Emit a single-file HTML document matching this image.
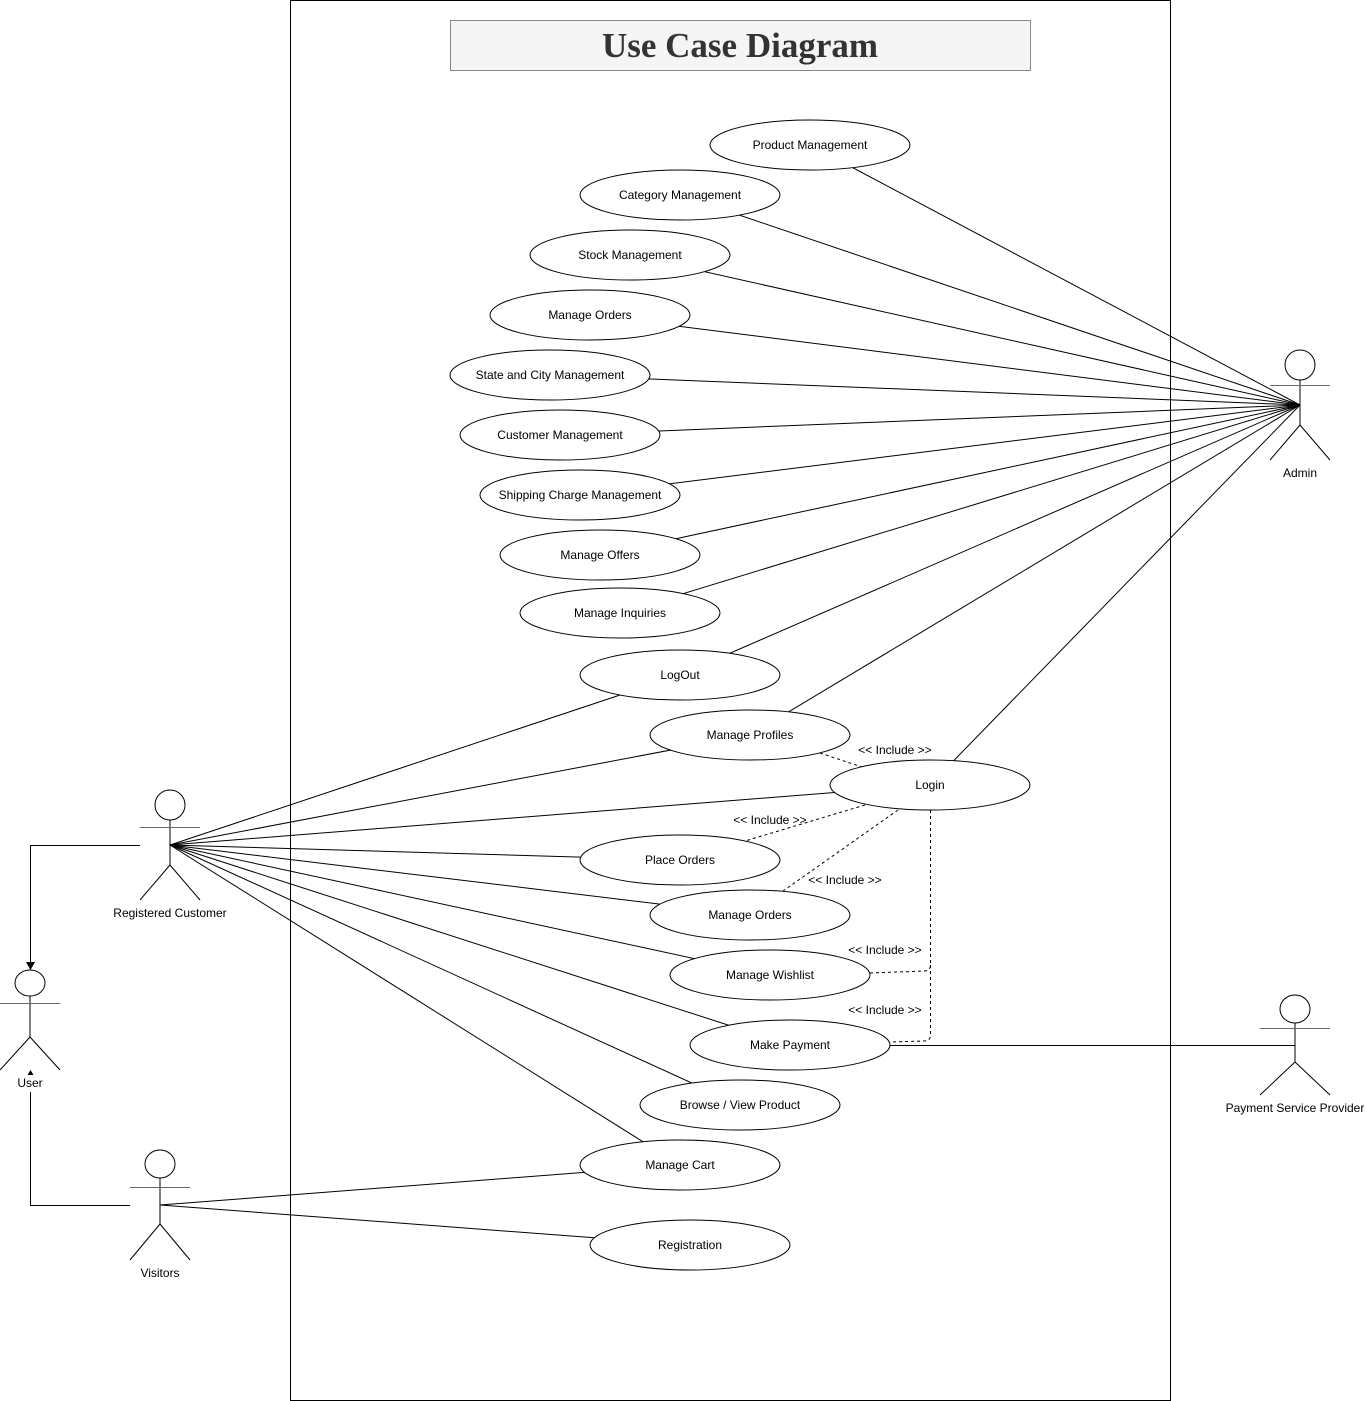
<!DOCTYPE html>
<html><head><meta charset="utf-8"><style>
html,body{margin:0;padding:0;background:#fff;}
svg{display:block;}
text{font-family:"Liberation Sans",Arial,sans-serif;font-size:12px;fill:#000;}
</style></head><body>
<svg width="1366" height="1401" viewBox="0 0 1366 1401" xmlns="http://www.w3.org/2000/svg">
<rect x="290.5" y="0.5" width="880" height="1400" fill="#fff" stroke="#000"/>
<rect x="450.5" y="20.5" width="580" height="50" fill="#f5f5f5" stroke="#888"/>
<text x="740" y="57" text-anchor="middle" style="font-family:'Liberation Serif',serif;font-size:35px;font-weight:bold;fill:#333">Use Case Diagram</text>
<g stroke="#000" stroke-width="1" fill="none">
<!-- admin lines -->
<line x1="1300" y1="405" x2="810" y2="145"/>
<line x1="1300" y1="405" x2="680" y2="195"/>
<line x1="1300" y1="405" x2="630" y2="255"/>
<line x1="1300" y1="405" x2="590" y2="315"/>
<line x1="1300" y1="405" x2="550" y2="375"/>
<line x1="1300" y1="405" x2="560" y2="435"/>
<line x1="1300" y1="405" x2="580" y2="495"/>
<line x1="1300" y1="405" x2="600" y2="555"/>
<line x1="1300" y1="405" x2="620" y2="613"/>
<line x1="1300" y1="405" x2="680" y2="675"/>
<line x1="1300" y1="405" x2="750" y2="735"/>
<line x1="1300" y1="405" x2="930" y2="785"/>
<!-- RC lines -->
<line x1="170" y1="845" x2="680" y2="675"/>
<line x1="170" y1="845" x2="750" y2="735"/>
<line x1="170" y1="845" x2="930" y2="785"/>
<line x1="170" y1="845" x2="680" y2="860"/>
<line x1="170" y1="845" x2="750" y2="915"/>
<line x1="170" y1="845" x2="770" y2="975"/>
<line x1="170" y1="845" x2="790" y2="1045"/>
<line x1="170" y1="845" x2="740" y2="1105"/>
<line x1="170" y1="845" x2="680" y2="1165"/>
<!-- visitors -->
<line x1="160" y1="1205" x2="680" y2="1165"/>
<line x1="160" y1="1205" x2="690" y2="1245"/>
<line x1="890" y1="1045.5" x2="1295" y2="1045.5"/>
<!-- generalization -->
<polyline points="140,845.5 30.5,845.5 30.5,965"/>
<polyline points="130,1205.5 30.5,1205.5 30.5,1092"/>
</g>
<polygon points="26,962 35,962 30.5,970" fill="#000"/>
<polygon points="27.5,1075 33.5,1075 30.5,1070" fill="#000"/>
<!-- dashed -->
<g stroke="#000" stroke-width="1" fill="none" stroke-dasharray="3,3">
<line x1="820" y1="753" x2="862" y2="767"/>
<line x1="865" y1="805" x2="745" y2="841"/>
<line x1="898" y1="810" x2="783" y2="891"/>
<path d="M930.5 810 V965 Q930.5 970 925 971 L870 973"/>
<path d="M930.5 965 V1035 Q930.5 1041 924 1041 L890 1042"/>
</g>
<!-- ellipses -->
<g fill="#fff" stroke="#000">
<ellipse cx="810" cy="145" rx="100" ry="25"/>
<ellipse cx="680" cy="195" rx="100" ry="25"/>
<ellipse cx="630" cy="255" rx="100" ry="25"/>
<ellipse cx="590" cy="315" rx="100" ry="25"/>
<ellipse cx="550" cy="375" rx="100" ry="25"/>
<ellipse cx="560" cy="435" rx="100" ry="25"/>
<ellipse cx="580" cy="495" rx="100" ry="25"/>
<ellipse cx="600" cy="555" rx="100" ry="25"/>
<ellipse cx="620" cy="613" rx="100" ry="25"/>
<ellipse cx="680" cy="675" rx="100" ry="25"/>
<ellipse cx="750" cy="735" rx="100" ry="25"/>
<ellipse cx="930" cy="785" rx="100" ry="25"/>
<ellipse cx="680" cy="860" rx="100" ry="25"/>
<ellipse cx="750" cy="915" rx="100" ry="25"/>
<ellipse cx="770" cy="975" rx="100" ry="25"/>
<ellipse cx="790" cy="1045" rx="100" ry="25"/>
<ellipse cx="740" cy="1105" rx="100" ry="25"/>
<ellipse cx="680" cy="1165" rx="100" ry="25"/>
<ellipse cx="690" cy="1245" rx="100" ry="25"/>
</g>
<g text-anchor="middle">
<text x="810" y="149">Product Management</text>
<text x="680" y="199">Category Management</text>
<text x="630" y="259">Stock Management</text>
<text x="590" y="319">Manage Orders</text>
<text x="550" y="379">State and City Management</text>
<text x="560" y="439">Customer Management</text>
<text x="580" y="499">Shipping Charge Management</text>
<text x="600" y="559">Manage Offers</text>
<text x="620" y="617">Manage Inquiries</text>
<text x="680" y="679">LogOut</text>
<text x="750" y="739">Manage Profiles</text>
<text x="930" y="789">Login</text>
<text x="680" y="864">Place Orders</text>
<text x="750" y="919">Manage Orders</text>
<text x="770" y="979">Manage Wishlist</text>
<text x="790" y="1049">Make Payment</text>
<text x="740" y="1109">Browse / View Product</text>
<text x="680" y="1169">Manage Cart</text>
<text x="690" y="1249">Registration</text>
<g style="font-size:11px">
<text x="895" y="754">&lt;&lt; Include &gt;&gt;</text>
<text x="770" y="824">&lt;&lt; Include &gt;&gt;</text>
<text x="845" y="884">&lt;&lt; Include &gt;&gt;</text>
<text x="885" y="954">&lt;&lt; Include &gt;&gt;</text>
<text x="885" y="1014">&lt;&lt; Include &gt;&gt;</text>
</g>
<text x="1300" y="477">Admin</text>
<text x="170" y="917">Registered Customer</text>
<text x="30" y="1087">User</text>
<text x="160" y="1277">Visitors</text>
<text x="1295" y="1112">Payment Service Provider</text>
</g>
<!-- actors -->
<g fill="#fff" stroke="#000">
<!-- Admin -->
<ellipse cx="1300" cy="365" rx="15" ry="15"/>
<line x1="1300" y1="380" x2="1300" y2="425"/><line x1="1270" y1="385.5" x2="1330" y2="385.5" stroke="#666"/>
<line x1="1300" y1="425" x2="1270" y2="460"/><line x1="1300" y1="425" x2="1330" y2="460"/>
<!-- RC -->
<ellipse cx="170" cy="805" rx="15" ry="15"/>
<line x1="170" y1="820" x2="170" y2="865"/><line x1="140" y1="827.5" x2="200" y2="827.5" stroke="#666"/>
<line x1="170" y1="865" x2="140" y2="900"/><line x1="170" y1="865" x2="200" y2="900"/>
<!-- User -->
<ellipse cx="30" cy="983" rx="15" ry="13"/>
<line x1="30" y1="996" x2="30" y2="1037"/><line x1="0" y1="1003.5" x2="60" y2="1003.5" stroke="#666"/>
<line x1="30" y1="1037" x2="0" y2="1070"/><line x1="30" y1="1037" x2="60" y2="1070"/>
<!-- Visitors -->
<ellipse cx="160" cy="1164" rx="15" ry="14"/>
<line x1="160" y1="1178" x2="160" y2="1224"/><line x1="130" y1="1187.5" x2="190" y2="1187.5" stroke="#666"/>
<line x1="160" y1="1224" x2="130" y2="1260"/><line x1="160" y1="1224" x2="190" y2="1260"/>
<!-- Payment -->
<ellipse cx="1295" cy="1009" rx="15" ry="14"/>
<line x1="1295" y1="1023" x2="1295" y2="1062"/><line x1="1260" y1="1028.5" x2="1330" y2="1028.5" stroke="#666"/>
<line x1="1295" y1="1062" x2="1260" y2="1095"/><line x1="1295" y1="1062" x2="1330" y2="1095"/>
</g>
</svg>
</body></html>
